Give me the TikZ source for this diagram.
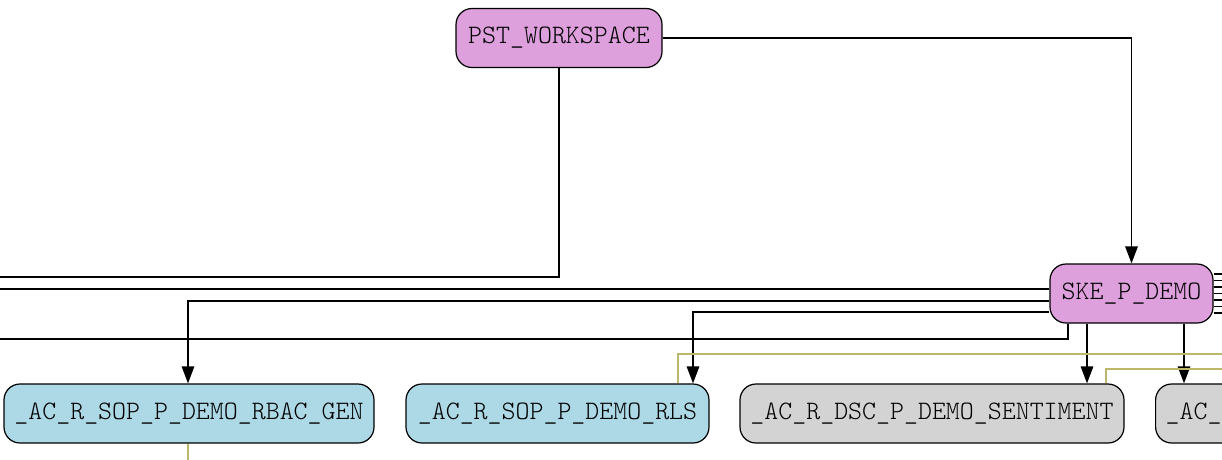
\documentclass[tikz,border=0pt]{standalone}
\usepackage{fontspec}
\setmonofont{Latin Modern Mono Light}
\usetikzlibrary{arrows.meta,positioning,calc}
\definecolor{plumfill}{HTML}{DDA0DD}
\definecolor{bluefill}{HTML}{ADD8E6}
\definecolor{grayfill}{HTML}{D3D3D3}
\definecolor{khaki}{HTML}{BDB76B}
\begin{document}
\begin{tikzpicture}[x=1pt, y=-1pt,
  obj/.style={draw, line width=1.2pt, rounded corners=16pt, minimum height=59pt, inner xsep=10pt,
    font=\ttfamily\fontsize{26.6}{30}\selectfont},
  flow/.style={-{Triangle[length=17pt,width=12.5pt]}, line width=1.4pt},
  link/.style={line width=1.4pt},
  usage/.style={khaki, line width=1.4pt}]
\useasboundingbox (0,0) rectangle (1222,459);
\clip (0,0) rectangle (1222,459);
% free ends at the picture border
\coordinate (lw1) at (-5,277);
\coordinate (lw2) at (-5,289);
\coordinate (lw3) at (-5,339);
\coordinate (redge) at (1227,0);
\coordinate (bedge) at (0,464);
\coordinate (o1) at (1227,354);
\coordinate (o2) at (1227,369);

\node[obj, fill=plumfill, minimum width=206pt] (pst) at (559,38) {PST\_WORKSPACE};
\node[obj, fill=plumfill, minimum width=163pt] (ske) at (1131.5,293.5) {SKE\_P\_DEMO};

\node[obj, fill=bluefill, minimum width=370pt] (rbac) at (189,413.5) {\_AC\_R\_SOP\_P\_DEMO\_RBAC\_GEN};
\node[obj, fill=bluefill, minimum width=303pt] (rls) at (557.5,413.5) {\_AC\_R\_SOP\_P\_DEMO\_RLS};
\node[obj, fill=grayfill, minimum width=384pt] (sent) at (932,413.5) {\_AC\_R\_DSC\_P\_DEMO\_SENTIMENT};
\node[obj, fill=grayfill, anchor=west, text width=280pt, align=left] (acx) at (1155,413.5) {\_AC\_};

\draw[link] (pst.south) |- (lw1);
\draw[flow] (pst.east) -| (ske.north);
\draw[link] (ske.west |- lw2) -- (lw2);
\draw[flow] ([yshift=-7.5pt]ske.west) -| ([xshift=-1pt]rbac.north);
\draw[flow] ([yshift=-18.5pt]ske.west) -| ([xshift=135.5pt]rls.north);
\draw[link] ([xshift=-63.5pt]ske.south) |- (lw3);
\draw[flow] ([xshift=-44.5pt]ske.south) -- ([xshift=-44.5pt]ske.south |- sent.north);
\draw[flow] ([xshift=52.5pt]ske.south) -- ([xshift=52.5pt]ske.south |- acx.north);
\foreach \dy in {-19.5,-13,-6.5,0,6.5,13,19.5} {
  \path ([yshift=\dy pt]ske.east) coordinate (s);
  \draw[link] (s) -- (s -| redge);
}

\draw[usage] ([xshift=120.5pt]rls.north) |- (o1);
\draw[usage] ([xshift=174pt]sent.north) |- (o2);
\draw[usage] ([xshift=-1pt]rbac.south) -- ([xshift=-1pt]rbac.south |- bedge);
\end{tikzpicture}
\end{document}
